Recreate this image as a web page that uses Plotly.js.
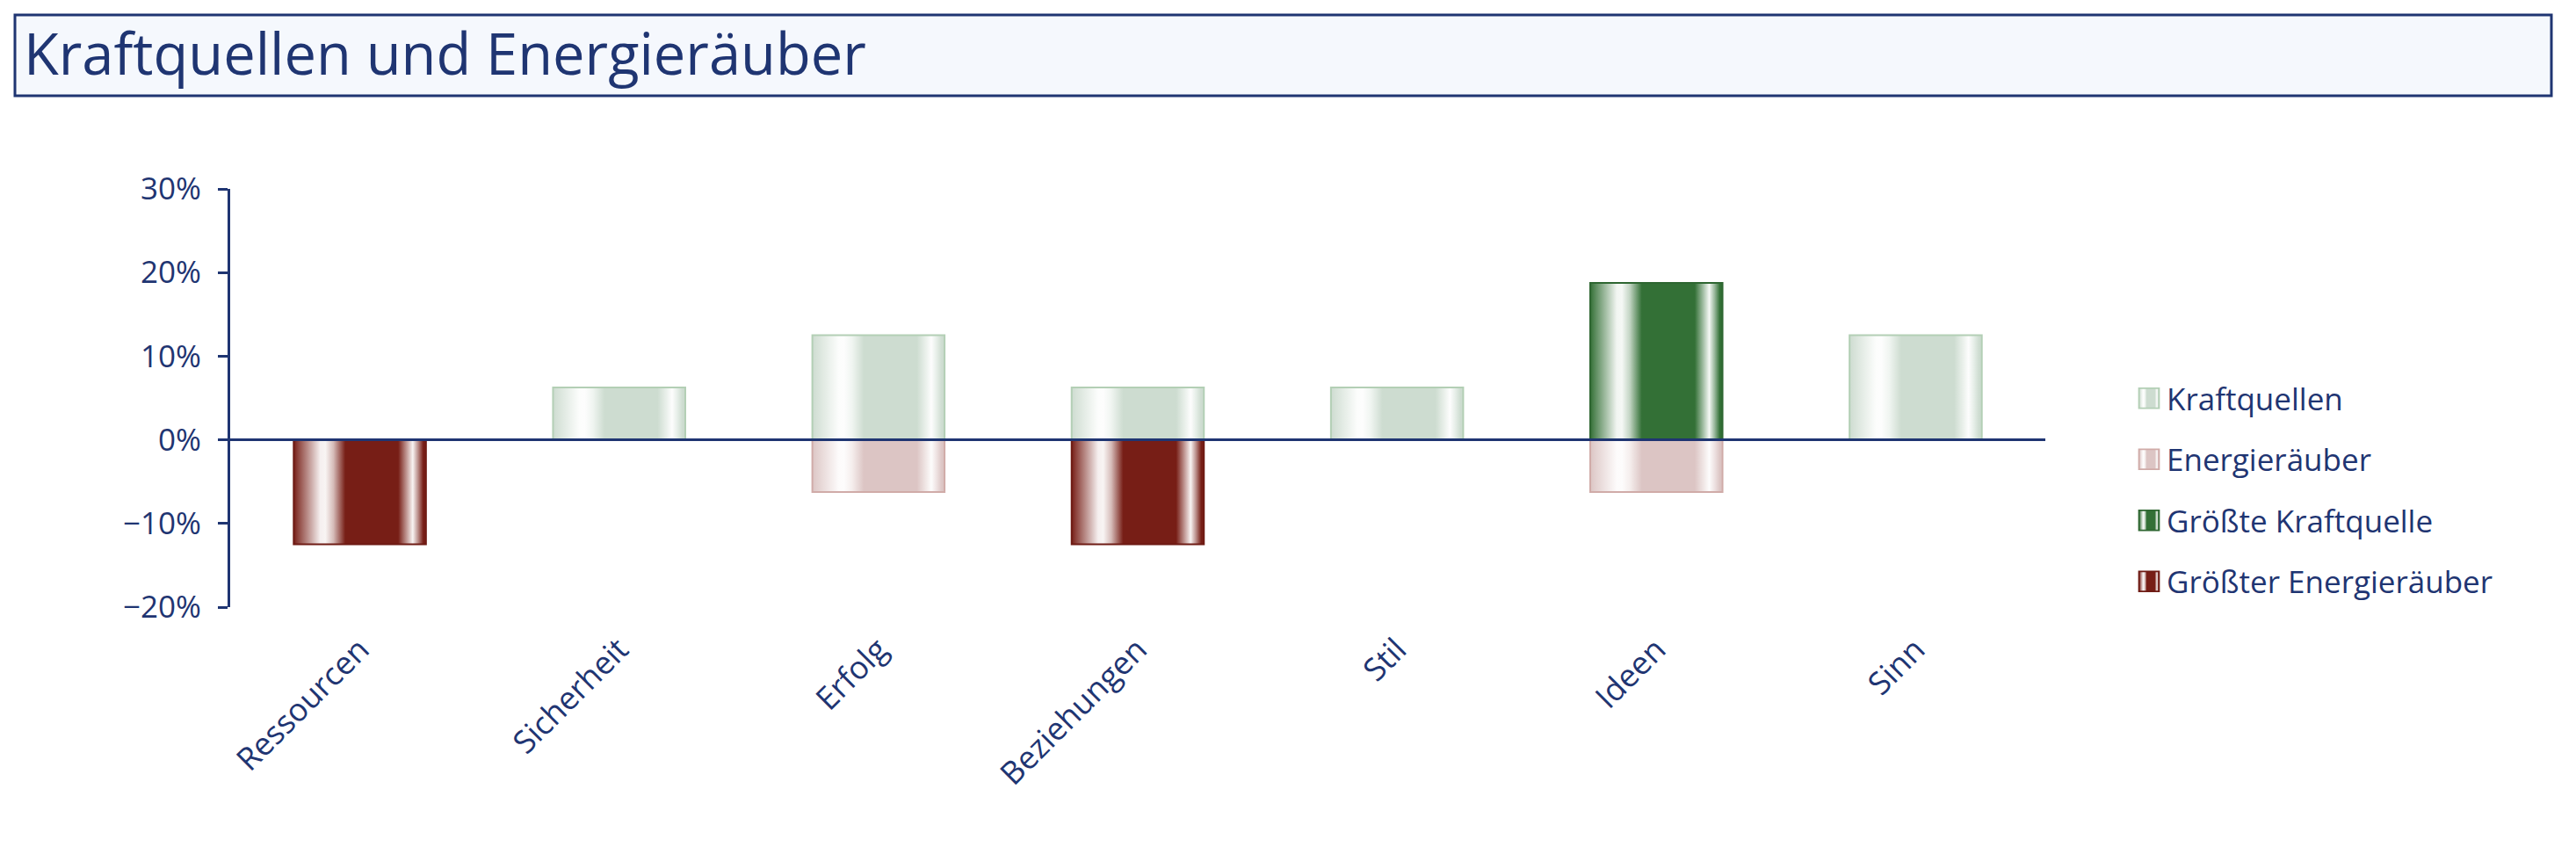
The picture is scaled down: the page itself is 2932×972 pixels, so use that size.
<!DOCTYPE html>
<html>
<head>
<meta charset="utf-8">
<script src="https://cdn.plot.ly/plotly-3.0.1.min.js"></script>
<style>
  html, body { margin: 0; padding: 0; background: #ffffff; }
  #chart { width: 2932px; height: 972px; }
</style>
</head>
<body>
<div id="chart"></div>
<script>
// ---- data ----
const categories = ["Ressourcen", "Sicherheit", "Erfolg", "Beziehungen", "Stil", "Ideen", "Sinn"];
const kraftquellen = [null, 6.25, 12.5, 6.25, 6.25, null, 12.5];
const energieraeuber = [null, null, -6.25, null, null, -6.25, null];
const groessteKraftquelle = [null, null, null, null, null, 18.75, null];
const groessterEnergieraeuber = [-12.5, null, null, -12.5, null, null, null];
const seriesNames = ["Kraftquellen", "Energieräuber", "Größte Kraftquelle", "Größter Energieräuber"];
const yTickValues = [-20, -10, 0, 10, 20, 30];
const yTickLabels = ["−20%", "−10%", "0%", "10%", "20%", "30%"];

// ---- style ----
const NAVY = "#1f3572";
const FONT = "Open Sans";
const W = 2932, H = 972;
const M = { l: 262, r: 604, t: 215, b: 281 };
const plotW = W - M.l - M.r, plotH = H - M.t - M.b;
const px2paperX = x => (x - M.l) / plotW;
const px2paperY = y => (H - M.b - y) / plotH;

const styles = [
  { fill: "#cddcd0", line: "#b3cfb5" },
  { fill: "#dcc5c4", line: "#d0aba8" },
  { fill: "#337036", line: "#2e6631" },
  { fill: "#771e16", line: "#6e1b14" }
];

function barTrace(name, values, i) {
  return {
    type: "bar",
    name: name,
    x: categories,
    y: values,
    legendgroup: "g" + i,
    marker: { color: styles[i].fill, line: { color: styles[i].line, width: 2 } },
    hoverinfo: "skip"
  };
}

const data = [
  barTrace(seriesNames[0], kraftquellen, 0),
  barTrace(seriesNames[1], energieraeuber, 1),
  barTrace(seriesNames[2], groessteKraftquelle, 2),
  barTrace(seriesNames[3], groessterEnergieraeuber, 3)
];

const layout = {
  width: W, height: H,
  margin: M,
  paper_bgcolor: "#ffffff",
  plot_bgcolor: "rgba(0,0,0,0)",
  barmode: "relative",
  bargap: 0.49,
  showlegend: true,
  title: {
    text: "Kraftquellen und Energieräuber",
    font: { family: FONT, size: 65, color: NAVY },
    xref: "container", x: 27 / W, xanchor: "left",
    yref: "container", y: 1 - 62 / H, yanchor: "middle"
  },
  xaxis: {
    type: "category",
    range: [-0.5, 6.5],
    showline: false, showgrid: false, zeroline: false,
    ticks: "",
    tickangle: -45,
    ticklabelstandoff: 19,
    tickfont: { family: FONT, size: 36, color: NAVY },
    fixedrange: true
  },
  yaxis: {
    range: [-20, 30],
    tickmode: "array",
    tickvals: yTickValues,
    ticktext: yTickLabels,
    showline: true, linecolor: NAVY, linewidth: 3,
    ticks: "outside", ticklen: 11, tickwidth: 3, tickcolor: NAVY,
    ticklabelstandoff: 12,
    showgrid: false, zeroline: false,
    tickfont: { family: FONT, size: 35, color: NAVY },
    fixedrange: true
  },
  legend: {
    x: px2paperX(2426), xanchor: "left",
    y: px2paperY(424), yanchor: "top",
    traceorder: "grouped",
    tracegroupgap: 21,
    font: { family: FONT, size: 35, color: NAVY },
    bgcolor: "rgba(0,0,0,0)"
  },
  shapes: [
    {
      type: "rect", xref: "paper", yref: "paper", layer: "below",
      x0: px2paperX(17), x1: px2paperX(2904),
      y0: px2paperY(109), y1: px2paperY(17),
      fillcolor: "#f5f8fd",
      line: { color: NAVY, width: 3 }
    },
    {
      type: "line", xref: "paper", yref: "y", layer: "above",
      x0: 0, x1: 1, y0: 0, y1: 0,
      line: { color: NAVY, width: 3 }
    }
  ]
};

function mix(hex, t) {
  const n = parseInt(hex.slice(1), 16);
  const r = (n >> 16) & 255, g = (n >> 8) & 255, b = n & 255;
  const f = c => Math.round(c + (255 - c) * t);
  return "rgb(" + f(r) + "," + f(g) + "," + f(b) + ")";
}

Plotly.newPlot("chart", data, layout, { staticPlot: true }).then(gd => {
  const svgNS = "http://www.w3.org/2000/svg";
  const svg = gd.querySelector(".main-svg");
  let defs = svg.querySelector("defs");
  if (!defs) { defs = document.createElementNS(svgNS, "defs"); svg.insertBefore(defs, svg.firstChild); }
  styles.forEach((s, i) => {
    const lg = document.createElementNS(svgNS, "linearGradient");
    lg.setAttribute("id", "barGrad" + i);
    lg.setAttribute("x1", "0"); lg.setAttribute("x2", "1");
    lg.setAttribute("y1", "0"); lg.setAttribute("y2", "0");
    const stops = [
      [0, s.fill], [0.03, mix(s.fill, 0.15)], [0.2, mix(s.fill, 0.93)], [0.24, mix(s.fill, 0.95)],
      [0.3, mix(s.fill, 0.7)], [0.39, s.fill], [0.79, s.fill], [0.86, mix(s.fill, 0.6)],
      [0.9, mix(s.fill, 0.95)], [0.94, mix(s.fill, 0.5)], [0.98, s.fill], [1, s.fill]
    ];
    stops.forEach(([o, c]) => {
      const st = document.createElementNS(svgNS, "stop");
      st.setAttribute("offset", o);
      st.setAttribute("stop-color", c);
      lg.appendChild(st);
    });
    defs.appendChild(lg);
  });
  gd.querySelectorAll(".barlayer .trace.bars").forEach((tr, i) => {
    tr.querySelectorAll(".point path").forEach(p => { p.style.fill = "url(#barGrad" + i + ")"; });
  });
  gd.querySelectorAll(".legend .traces").forEach((tr, i) => {
    tr.querySelectorAll(".legendpoints path").forEach(p => {
      p.style.fill = "url(#barGrad" + i + ")";
      p.setAttribute("transform", (p.getAttribute("transform") || "") + " scale(1.9)");
      p.style.strokeWidth = "1px";
    });
  });
});
</script>
</body>
</html>
